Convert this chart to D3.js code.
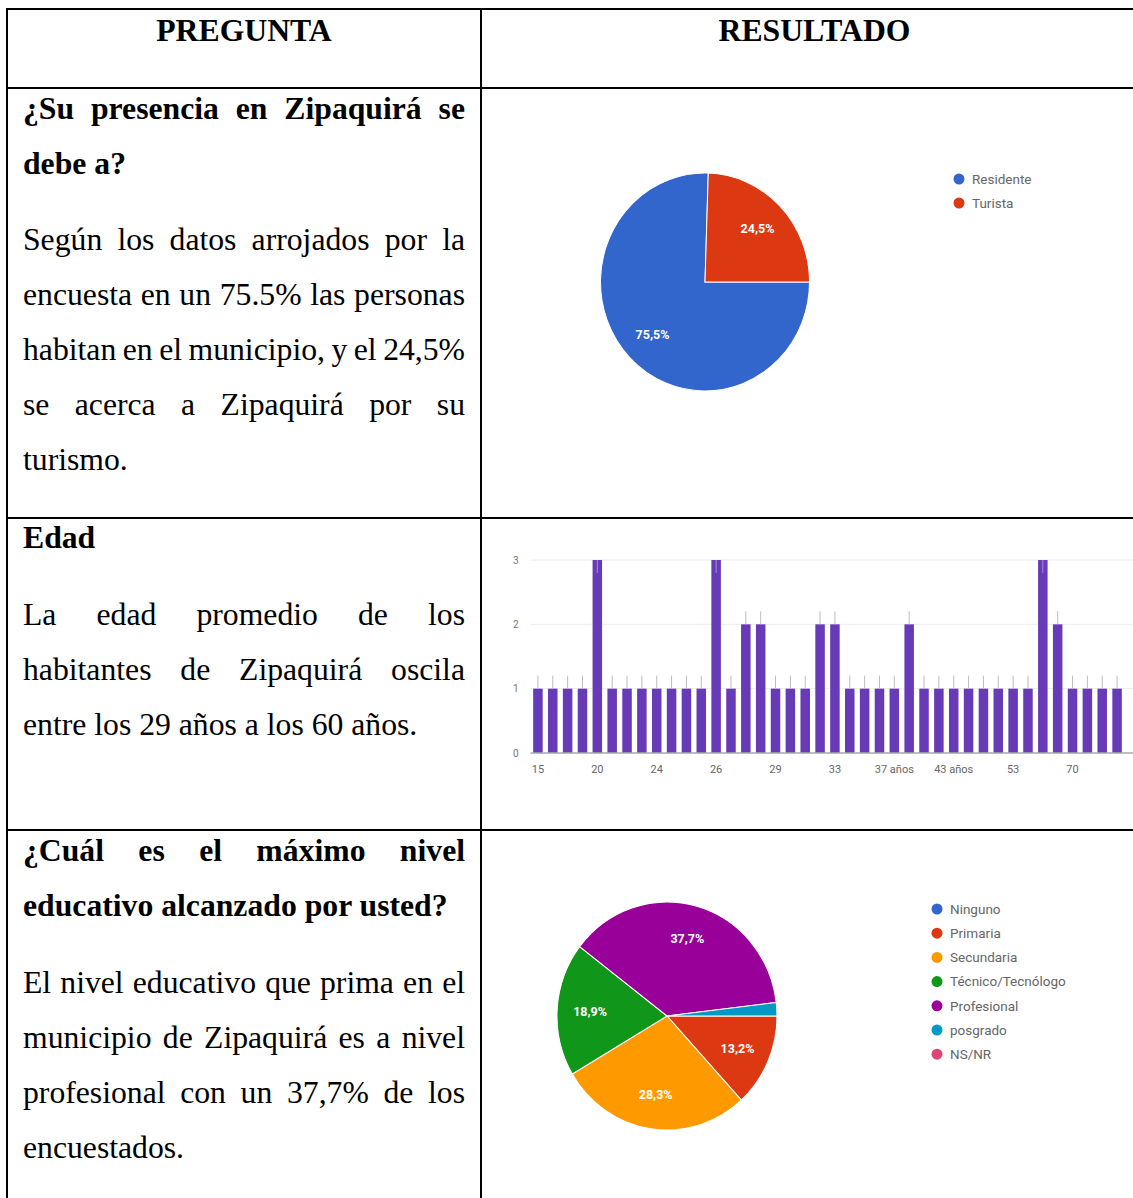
<!DOCTYPE html>
<html>
<head>
<meta charset="utf-8">
<script src="https://cdn.jsdelivr.net/npm/d3@7"></script>
<style>
body { margin: 0; background: #fff; }
svg { display: block; }
.serif { font-family: "Liberation Serif", "Times New Roman", serif; font-size: 31.7px; fill: #000; }
.gc { font-family: Roboto, Arial, sans-serif; }
</style>
</head>
<body>
<svg id="chart" width="1133" height="1198"></svg>
<script>
// table texts
var headers = ["PREGUNTA", "RESULTADO"];

var q1Title = ["¿Su presencia en Zipaquirá se", "debe a?"];
var q1Text = ["Según los datos arrojados por la", "encuesta en un 75.5% las personas",
    "habitan en el municipio, y el 24,5%", "se acerca a Zipaquirá por su", "turismo."];
var q2Title = ["Edad"];
var q2Text = ["La edad promedio de los", "habitantes de Zipaquirá oscila",
    "entre los 29 años a los 60 años."];
var q3Title = ["¿Cuál es el máximo nivel", "educativo alcanzado por usted?"];
var q3Text = ["El nivel educativo que prima en el", "municipio de Zipaquirá es a nivel",
    "profesional con un 37,7% de los", "encuestados."];

// chart data
var presenciaLabels = ["Residente", "Turista"];
var presenciaValues = [75.5, 24.5];
var presenciaColors = ["#3366cc", "#dc3912"];

var ageCounts = [1, 1, 1, 1, 3, 1, 1, 1, 1, 1, 1, 1, 3, 1, 2, 2, 1, 1, 1, 2,
    2, 1, 1, 1, 1, 2, 1, 1, 1, 1, 1, 1, 1, 1, 3, 2, 1, 1, 1, 1];
var ageTickLabels = ["15", "20", "24", "26", "29", "33", "37 años", "43 años", "53", "70"];
var ageYTicks = [0, 1, 2, 3];

var eduLabels = ["Ninguno", "Primaria", "Secundaria", "Técnico/Tecnólogo", "Profesional", "posgrado", "NS/NR"];
var eduValues = [0, 13.2, 28.3, 18.9, 37.7, 1.9, 0];
var eduColors = ["#3366cc", "#dc3912", "#ff9900", "#109618", "#990099", "#0099c6", "#dd4477"];

const svg = d3.select("#chart");
svg.append("rect").attr("width", 1133).attr("height", 1198).attr("fill", "#fff");

// ---------- table ----------
const colX = {left: 7, mid: 481, right: 1133};
const rowY = [9, 88, 518, 830];

svg.selectAll("line.hrow")
    .data(rowY)
    .enter().append("line")
    .attr("class", "hrow")
    .attr("x1", colX.left - 1).attr("x2", colX.right)
    .attr("y1", d => d).attr("y2", d => d)
    .attr("stroke", "#000").attr("stroke-width", 2);

svg.selectAll("line.vcol")
    .data([colX.left, colX.mid])
    .enter().append("line")
    .attr("class", "vcol")
    .attr("x1", d => d).attr("x2", d => d)
    .attr("y1", rowY[0]).attr("y2", 1198)
    .attr("stroke", "#000").attr("stroke-width", 2);

svg.selectAll("text.head")
    .data(headers)
    .enter().append("text")
    .attr("class", "serif head")
    .attr("x", (d, i) => i === 0 ? 244 : 814.5)
    .attr("y", 41)
    .attr("text-anchor", "middle")
    .attr("font-weight", "bold")
    .text(d => d);

const textLeft = 23, textRight = 465, lineGap = 55;

// justified paragraph, last line left aligned
function paragraph(lines, y0, bold) {
    lines.forEach(function (line, i) {
        const y = y0 + i * lineGap;
        const last = i === lines.length - 1;
        if (last) {
            svg.append("text").attr("class", "serif")
                .attr("font-weight", bold ? "bold" : "normal")
                .attr("x", textLeft).attr("y", y).text(line);
            return;
        }
        const words = line.split(" ");
        const nodes = words.map(w => svg.append("text").attr("class", "serif")
            .attr("font-weight", bold ? "bold" : "normal")
            .attr("y", y).text(w));
        const widths = nodes.map(n => n.node().getComputedTextLength());
        const gap = (textRight - textLeft - d3.sum(widths)) / (words.length - 1);
        let x = textLeft;
        nodes.forEach(function (n, k) {
            n.attr("x", x);
            x += widths[k] + gap;
        });
    });
}

paragraph(q1Title, 119, true);
paragraph(q1Text, 250, false);
paragraph(q2Title, 548, true);
paragraph(q2Text, 625, false);
paragraph(q3Title, 861, true);
paragraph(q3Text, 993, false);

// ---------- pies ----------
const pctFormat = v => d3.format(".1f")(v).replace(".", ",") + "%";

function drawPie(values, colors, cx, cy, rx, ry) {
    const pie = d3.pie().sort(null)
        .startAngle(Math.PI / 2).endAngle(Math.PI / 2 + 2 * Math.PI);
    const arcs = pie(values);
    const arc = d3.arc().innerRadius(0).outerRadius(rx);
    const labelArc = d3.arc().innerRadius(rx * 0.7).outerRadius(rx * 0.7);

    const g = svg.append("g")
        .attr("transform", "translate(" + cx + "," + cy + ") scale(1," + (ry / rx) + ")");
    g.selectAll("path")
        .data(arcs)
        .enter().append("path")
        .attr("d", arc)
        .attr("fill", (d, i) => colors[i])
        .attr("stroke", "#fff")
        .attr("stroke-width", d => d.value > 0 ? 1 : 0);

    svg.append("g").selectAll("text")
        .data(arcs.filter(d => d.value >= 5))
        .enter().append("text")
        .attr("class", "gc")
        .attr("x", d => cx + labelArc.centroid(d)[0])
        .attr("y", d => cy + labelArc.centroid(d)[1] * ry / rx)
        .attr("dy", "0.35em")
        .attr("text-anchor", "middle")
        .attr("font-size", 12.5)
        .attr("font-weight", "bold")
        .attr("fill", "#fff")
        .text(d => pctFormat(d.value));
}

function drawLegend(labels, colors, x, y0, step) {
    const item = svg.append("g").selectAll("g")
        .data(labels)
        .enter().append("g")
        .attr("transform", (d, i) => "translate(" + x + "," + (y0 + i * step) + ")");
    item.append("circle").attr("r", 5.5).attr("fill", (d, i) => colors[i]);
    item.append("text")
        .attr("class", "gc")
        .attr("x", 13).attr("dy", "0.35em")
        .attr("font-size", 13.5)
        .attr("fill", "#666")
        .text(d => d);
}

drawPie(presenciaValues, presenciaColors, 705, 282, 104.5, 109);
drawLegend(presenciaLabels, presenciaColors, 959, 179, 24);

drawPie(eduValues, eduColors, 667, 1016, 110, 114);
drawLegend(eduLabels, eduColors, 937, 909, 24.2);

// ---------- age bar chart ----------
const plot = {left: 530.5, right: 1124.5, top: 560, bottom: 753};

const x = d3.scaleBand()
    .domain(d3.range(ageCounts.length))
    .range([plot.left, plot.right])
    .paddingInner(0.36)
    .paddingOuter(0.18);

const y = d3.scaleLinear()
    .domain([0, 3])
    .range([plot.bottom, plot.top]);

svg.append("g").selectAll("line")
    .data(ageYTicks.filter(t => t > 0))
    .enter().append("line")
    .attr("x1", plot.left).attr("x2", 1133)
    .attr("y1", d => y(d)).attr("y2", d => y(d))
    .attr("stroke", "#ececec");

svg.append("g").selectAll("rect")
    .data(ageCounts)
    .enter().append("rect")
    .attr("x", (d, i) => x(i))
    .attr("y", d => y(d))
    .attr("width", x.bandwidth())
    .attr("height", d => plot.bottom - y(d))
    .attr("fill", "#673ab7");

// annotation stems
svg.append("g").selectAll("line")
    .data(ageCounts)
    .enter().append("line")
    .attr("x1", (d, i) => x(i) + x.bandwidth() / 2)
    .attr("x2", (d, i) => x(i) + x.bandwidth() / 2)
    .attr("y1", d => y(d))
    .attr("y2", d => y(d) - 13 < plot.top ? y(d) + 13 : y(d) - 13)
    .attr("stroke", d => y(d) - 13 < plot.top ? "#a58fd0" : "#bdbdbd")
    .attr("stroke-width", 1);

svg.append("line")
    .attr("x1", plot.left).attr("x2", 1133)
    .attr("y1", plot.bottom).attr("y2", plot.bottom)
    .attr("stroke", "#a8a8a8").attr("stroke-width", 1.5);

const xAxis = d3.axisBottom(x)
    .tickValues(d3.range(0, ageCounts.length, 4))
    .tickFormat((d, i) => ageTickLabels[i])
    .tickSize(0).tickPadding(12);

svg.append("g")
    .attr("transform", "translate(0," + plot.bottom + ")")
    .call(xAxis)
    .call(g => g.select(".domain").remove())
    .selectAll("text")
    .attr("class", "gc")
    .attr("font-size", 11)
    .attr("fill", "#666");

const yAxis = d3.axisLeft(y)
    .tickValues(ageYTicks)
    .tickFormat(d3.format("d"))
    .tickSize(0).tickPadding(12);

svg.append("g")
    .attr("transform", "translate(" + plot.left + ",0)")
    .call(yAxis)
    .call(g => g.select(".domain").remove())
    .selectAll("text")
    .attr("class", "gc")
    .attr("font-size", 10)
    .attr("fill", "#777");
</script>
</body>
</html>
